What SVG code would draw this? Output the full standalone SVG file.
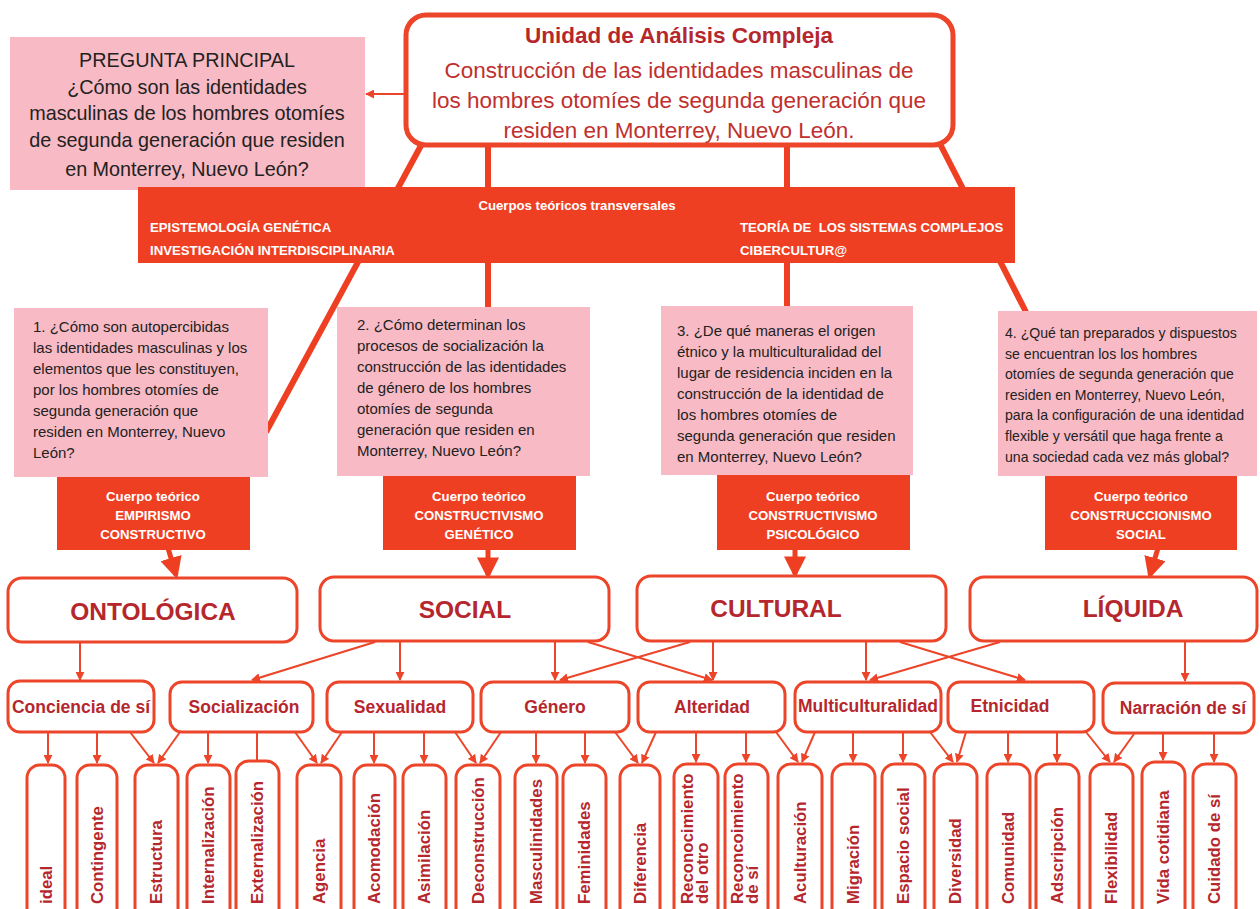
<svg xmlns="http://www.w3.org/2000/svg" width="1260" height="909" viewBox="0 0 1260 909">
<defs>
<style>
.bg{fill:#ffffff}
.rbox{fill:#ffffff;stroke:#ec4529;stroke-width:3}
.tbox{fill:#ffffff;stroke:#ec4529;stroke-width:5}
.pink{fill:#f8bac4}
.band{fill:#ef3f23}
.thick{stroke:#ef3f23;stroke-width:6;fill:none}
.big{stroke:#ef3f23;stroke-width:5;fill:none}
.thin{stroke:#ec4529;stroke-width:2;fill:none}
.t-title{font-family:"Liberation Sans",Arial,sans-serif;font-weight:bold;font-size:22.5px;fill:#b5272d;text-anchor:middle}
.t-main{font-family:"Liberation Sans",Arial,sans-serif;font-size:22.5px;fill:#c0302e;text-anchor:middle}
.t-pq{font-family:"Liberation Sans",Arial,sans-serif;font-size:19.8px;fill:#222;text-anchor:middle}
.t-band{font-family:"Liberation Sans",Arial,sans-serif;font-weight:bold;font-size:13.2px;fill:#ffffff}
.t-q{font-family:"Liberation Sans",Arial,sans-serif;font-size:15px;fill:#222}
.t-q4{font-family:"Liberation Sans",Arial,sans-serif;font-size:14.1px;fill:#222}
.t-ct{font-family:"Liberation Sans",Arial,sans-serif;font-weight:bold;font-size:13.2px;fill:#ffffff;text-anchor:middle}
.t-l1{font-family:"Liberation Sans",Arial,sans-serif;font-weight:bold;font-size:24.5px;fill:#b5272d;text-anchor:middle}
.t-l2{font-family:"Liberation Sans",Arial,sans-serif;font-weight:bold;font-size:17.5px;fill:#b5272d;text-anchor:middle}
.t-leaf{font-family:"Liberation Sans",Arial,sans-serif;font-weight:bold;font-size:16.8px;fill:#b5272d}
</style>
<marker id="ah" viewBox="0 0 10 10" refX="9" refY="5" markerWidth="4.5" markerHeight="4.5" orient="auto" markerUnits="strokeWidth">
<path d="M0,0 L10,5 L0,10 Z" fill="#ec4529"/>
</marker>
<marker id="ahb" viewBox="0 0 10 10" refX="8" refY="5" markerWidth="22" markerHeight="22" orient="auto" markerUnits="userSpaceOnUse">
<path d="M0,0 L10,5 L0,10 Z" fill="#ef3f23"/>
</marker>
</defs>
<rect class="bg" x="0" y="0" width="1260" height="909"/>

<g id="connectors">
<line class="thick" x1="424" y1="140" x2="266" y2="432"/>
<line class="thick" x1="488" y1="140" x2="488" y2="310"/>
<line class="thick" x1="787" y1="140" x2="787" y2="310"/>
<line class="thick" x1="938" y1="140" x2="1026" y2="312"/>
<line class="thin" x1="405" y1="94" x2="366" y2="94" stroke-width="2.5" marker-end="url(#ah)"/>
<line class="big" x1="168" y1="548" x2="176" y2="575" marker-end="url(#ahb)"/>
<line class="big" x1="488" y1="548" x2="488" y2="575" marker-end="url(#ahb)"/>
<line class="big" x1="795" y1="548" x2="795" y2="574" marker-end="url(#ahb)"/>
<line class="big" x1="1158" y1="548" x2="1150" y2="575" marker-end="url(#ahb)"/>
<line class="thin" x1="80" y1="643" x2="80" y2="680" marker-end="url(#ah)"/>
<line class="thin" x1="375" y1="642" x2="252" y2="680" marker-end="url(#ah)"/>
<line class="thin" x1="400" y1="642" x2="400" y2="680" marker-end="url(#ah)"/>
<line class="thin" x1="555" y1="642" x2="555" y2="680" marker-end="url(#ah)"/>
<line class="thin" x1="588" y1="642" x2="712" y2="680" marker-end="url(#ah)"/>
<line class="thin" x1="690" y1="642" x2="560" y2="680" marker-end="url(#ah)"/>
<line class="thin" x1="713" y1="642" x2="713" y2="680" marker-end="url(#ah)"/>
<line class="thin" x1="866" y1="642" x2="866" y2="680" marker-end="url(#ah)"/>
<line class="thin" x1="900" y1="642" x2="1025" y2="680" marker-end="url(#ah)"/>
<line class="thin" x1="1000" y1="642" x2="870" y2="680" marker-end="url(#ah)"/>
<line class="thin" x1="1185" y1="642" x2="1185" y2="681" marker-end="url(#ah)"/>
<line class="thin" x1="48" y1="732" x2="48" y2="763" marker-end="url(#ah)"/>
<line class="thin" x1="97" y1="732" x2="97" y2="763" marker-end="url(#ah)"/>
<line class="thin" x1="130" y1="732" x2="154" y2="763" marker-end="url(#ah)"/>
<line class="thin" x1="180" y1="732" x2="158" y2="763" marker-end="url(#ah)"/>
<line class="thin" x1="208" y1="732" x2="208" y2="763" marker-end="url(#ah)"/>
<line class="thin" x1="257" y1="732" x2="257" y2="760"/>
<line class="thin" x1="295" y1="732" x2="317" y2="763" marker-end="url(#ah)"/>
<line class="thin" x1="342" y1="732" x2="321" y2="763" marker-end="url(#ah)"/>
<line class="thin" x1="374" y1="732" x2="374" y2="763" marker-end="url(#ah)"/>
<line class="thin" x1="424" y1="732" x2="424" y2="763" marker-end="url(#ah)"/>
<line class="thin" x1="455" y1="732" x2="476" y2="763" marker-end="url(#ah)"/>
<line class="thin" x1="501" y1="732" x2="480" y2="763" marker-end="url(#ah)"/>
<line class="thin" x1="536" y1="732" x2="536" y2="763" marker-end="url(#ah)"/>
<line class="thin" x1="585" y1="732" x2="585" y2="763" marker-end="url(#ah)"/>
<line class="thin" x1="615" y1="732" x2="638" y2="763" marker-end="url(#ah)"/>
<line class="thin" x1="656" y1="732" x2="642" y2="763" marker-end="url(#ah)"/>
<line class="thin" x1="696" y1="732" x2="696" y2="762" marker-end="url(#ah)"/>
<line class="thin" x1="746" y1="732" x2="746" y2="762" marker-end="url(#ah)"/>
<line class="thin" x1="776" y1="732" x2="798" y2="762" marker-end="url(#ah)"/>
<line class="thin" x1="815" y1="732" x2="802" y2="762" marker-end="url(#ah)"/>
<line class="thin" x1="853" y1="732" x2="853" y2="762" marker-end="url(#ah)"/>
<line class="thin" x1="903" y1="732" x2="903" y2="762" marker-end="url(#ah)"/>
<line class="thin" x1="930" y1="732" x2="953" y2="762" marker-end="url(#ah)"/>
<line class="thin" x1="966" y1="732" x2="957" y2="762" marker-end="url(#ah)"/>
<line class="thin" x1="1008" y1="732" x2="1008" y2="762" marker-end="url(#ah)"/>
<line class="thin" x1="1057" y1="732" x2="1057" y2="762" marker-end="url(#ah)"/>
<line class="thin" x1="1086" y1="732" x2="1110" y2="762" marker-end="url(#ah)"/>
<line class="thin" x1="1134" y1="734" x2="1114" y2="762" marker-end="url(#ah)"/>
<line class="thin" x1="1163" y1="734" x2="1163" y2="760" marker-end="url(#ah)"/>
<line class="thin" x1="1214" y1="734" x2="1214" y2="762" marker-end="url(#ah)"/>
</g>

<g id="main-question">
<rect class="pink" x="10" y="37" width="355" height="153"/>
<text class="t-pq" x="187" y="67">PREGUNTA PRINCIPAL</text>
<text class="t-pq" x="187" y="94">¿Cómo son las identidades</text>
<text class="t-pq" x="187" y="120">masculinas de los hombres otomíes</text>
<text class="t-pq" x="187" y="147">de segunda generación que residen</text>
<text class="t-pq" x="187" y="176">en Monterrey, Nuevo León?</text>
</g>

<g id="unit">
<rect class="tbox" x="406" y="15" width="547" height="130" rx="20"/>
<text class="t-title" x="679" y="43">Unidad de Análisis Compleja</text>
<text class="t-main" x="679" y="78">Construcción de las identidades masculinas de</text>
<text class="t-main" x="679" y="108">los hombres otomíes de segunda generación que</text>
<text class="t-main" x="679" y="138">residen en Monterrey, Nuevo León.</text>
</g>

<g id="band">
<rect class="band" x="138" y="187" width="877" height="76"/>
<text class="t-band" x="577" y="210" text-anchor="middle">Cuerpos teóricos transversales</text>
<text class="t-band" x="150" y="232">EPISTEMOLOGÍA GENÉTICA</text>
<text class="t-band" x="150" y="255">INVESTIGACIÓN INTERDISCIPLINARIA</text>
<text class="t-band" x="740" y="232" xml:space="preserve">TEORÍA DE  LOS SISTEMAS COMPLEJOS</text>
<text class="t-band" x="740" y="255">CIBERCULTUR@</text>
</g>

<g id="q1">
<rect class="pink" x="14" y="308" width="254" height="169"/>
<text class="t-q" x="33" y="332">1.  ¿Cómo son autopercibidas</text>
<text class="t-q" x="33" y="353">las identidades masculinas y los</text>
<text class="t-q" x="33" y="374">elementos que les constituyen,</text>
<text class="t-q" x="33" y="395">por los hombres otomíes de</text>
<text class="t-q" x="33" y="416">segunda generación que</text>
<text class="t-q" x="33" y="437">residen en Monterrey, Nuevo</text>
<text class="t-q" x="33" y="458">León?</text>
</g>
<g id="c1">
<rect class="band" x="57" y="477" width="193" height="73"/>
<text class="t-ct" x="153" y="501">Cuerpo teórico</text>
<text class="t-ct" x="153" y="520">EMPIRISMO</text>
<text class="t-ct" x="153" y="539">CONSTRUCTIVO</text>
</g>

<g id="q2">
<rect class="pink" x="337" y="307" width="253" height="169"/>
<text class="t-q" x="357" y="330">2. ¿Cómo determinan los</text>
<text class="t-q" x="357" y="351">procesos de socialización la</text>
<text class="t-q" x="357" y="372">construcción de las identidades</text>
<text class="t-q" x="357" y="393">de género de los hombres</text>
<text class="t-q" x="357" y="414">otomíes de segunda</text>
<text class="t-q" x="357" y="435">generación que residen en</text>
<text class="t-q" x="357" y="456">Monterrey, Nuevo León?</text>
</g>
<g id="c2">
<rect class="band" x="383" y="476" width="193" height="74"/>
<text class="t-ct" x="479" y="501">Cuerpo teórico</text>
<text class="t-ct" x="479" y="520">CONSTRUCTIVISMO</text>
<text class="t-ct" x="479" y="539">GENÉTICO</text>
</g>

<g id="q3">
<rect class="pink" x="661" y="306" width="252" height="169"/>
<text class="t-q" x="677" y="336">3. ¿De qué maneras el origen</text>
<text class="t-q" x="677" y="357">étnico y la multiculturalidad del</text>
<text class="t-q" x="677" y="378">lugar de residencia inciden en la</text>
<text class="t-q" x="677" y="399">construcción de la identidad de</text>
<text class="t-q" x="677" y="420">los hombres otomíes de</text>
<text class="t-q" x="677" y="441">segunda generación que residen</text>
<text class="t-q" x="677" y="462">en Monterrey, Nuevo León?</text>
</g>
<g id="c3">
<rect class="band" x="717" y="475" width="193" height="75"/>
<text class="t-ct" x="813" y="501">Cuerpo teórico</text>
<text class="t-ct" x="813" y="520">CONSTRUCTIVISMO</text>
<text class="t-ct" x="813" y="539">PSICOLÓGICO</text>
</g>

<g id="q4">
<rect class="pink" x="998" y="311" width="259" height="165"/>
<text class="t-q4" x="1005" y="338">4. ¿Qué tan preparados y dispuestos</text>
<text class="t-q4" x="1005" y="359">se encuentran los los hombres</text>
<text class="t-q4" x="1005" y="379">otomíes de segunda generación que</text>
<text class="t-q4" x="1005" y="400">residen en Monterrey, Nuevo León,</text>
<text class="t-q4" x="1005" y="420">para la configuración de una identidad</text>
<text class="t-q4" x="1005" y="441">flexible y versátil que haga frente a</text>
<text class="t-q4" x="1005" y="462">una sociedad cada vez más global?</text>
</g>
<g id="c4">
<rect class="band" x="1045" y="476" width="192" height="74"/>
<text class="t-ct" x="1141" y="501">Cuerpo teórico</text>
<text class="t-ct" x="1141" y="520">CONSTRUCCIONISMO</text>
<text class="t-ct" x="1141" y="539">SOCIAL</text>
</g>

<g id="ontologica"><rect class="rbox" x="8" y="578" width="289" height="64" rx="14"/><text class="t-l1" x="153" y="620">ONTOLÓGICA</text></g>
<g id="social"><rect class="rbox" x="320" y="577" width="289" height="64" rx="14"/><text class="t-l1" x="465" y="618">SOCIAL</text></g>
<g id="cultural"><rect class="rbox" x="637" y="576" width="309" height="65" rx="14"/><text class="t-l1" x="776" y="617">CULTURAL</text></g>
<g id="liquida"><rect class="rbox" x="970" y="577" width="287" height="64" rx="14"/><text class="t-l1" x="1133" y="617">LÍQUIDA</text></g>

<g id="conciencia"><rect class="rbox" x="8" y="681" width="146" height="51" rx="12"/><text class="t-l2" x="81" y="713">Conciencia de sí</text></g>
<g id="socializacion"><rect class="rbox" x="170" y="682" width="143" height="50" rx="12"/><text class="t-l2" x="244" y="713">Socialización</text></g>
<g id="sexualidad"><rect class="rbox" x="327" y="682" width="146" height="50" rx="12"/><text class="t-l2" x="400" y="713">Sexualidad</text></g>
<g id="genero"><rect class="rbox" x="481" y="682" width="148" height="50" rx="12"/><text class="t-l2" x="555" y="713">Género</text></g>
<g id="alteridad"><rect class="rbox" x="638" y="682" width="147" height="50" rx="12"/><text class="t-l2" x="712" y="713">Alteridad</text></g>
<g id="multiculturalidad"><rect class="rbox" x="795" y="682" width="146" height="50" rx="12"/><text class="t-l2" x="868" y="712">Multiculturalidad</text></g>
<g id="etnicidad"><rect class="rbox" x="948" y="682" width="146" height="50" rx="12"/><text class="t-l2" x="1010" y="712">Etnicidad</text></g>
<g id="narracion"><rect class="rbox" x="1103" y="683" width="151" height="50" rx="12"/><text class="t-l2" x="1183" y="714">Narración de sí</text></g>

<g id="leaf-ideal"><rect class="rbox" x="27" y="765" width="38" height="160" rx="13"/><text class="t-leaf" transform="translate(52,904) rotate(-90)">ideal</text></g>
<g id="leaf-contingente"><rect class="rbox" x="77" y="765" width="40" height="160" rx="13"/><text class="t-leaf" transform="translate(103,904) rotate(-90)">Contingente</text></g>
<g id="leaf-estructura"><rect class="rbox" x="135" y="765" width="43" height="160" rx="13"/><text class="t-leaf" transform="translate(162,904) rotate(-90)">Estructura</text></g>
<g id="leaf-internalizacion"><rect class="rbox" x="187" y="765" width="43" height="160" rx="13"/><text class="t-leaf" transform="translate(214,904) rotate(-90)">Internalización</text></g>
<g id="leaf-externalizacion"><rect class="rbox" x="236" y="761" width="43" height="164" rx="13"/><text class="t-leaf" transform="translate(263,904) rotate(-90)">Externalización</text></g>
<g id="leaf-agencia"><rect class="rbox" x="297" y="765" width="44" height="160" rx="13"/><text class="t-leaf" transform="translate(325,904) rotate(-90)">Agencia</text></g>
<g id="leaf-acomodacion"><rect class="rbox" x="354" y="765" width="41" height="160" rx="13"/><text class="t-leaf" transform="translate(380,904) rotate(-90)">Acomodación</text></g>
<g id="leaf-asimilacion"><rect class="rbox" x="403" y="765" width="43" height="160" rx="13"/><text class="t-leaf" transform="translate(430,904) rotate(-90)">Asimilación</text></g>
<g id="leaf-deconstruccion"><rect class="rbox" x="456" y="765" width="44" height="160" rx="13"/><text class="t-leaf" transform="translate(484,904) rotate(-90)">Deconstrucción</text></g>
<g id="leaf-masculinidades"><rect class="rbox" x="515" y="765" width="42" height="160" rx="13"/><text class="t-leaf" transform="translate(542,904) rotate(-90)">Masculinidades</text></g>
<g id="leaf-feminidades"><rect class="rbox" x="563" y="765" width="43" height="160" rx="13"/><text class="t-leaf" transform="translate(590,904) rotate(-90)">Feminidades</text></g>
<g id="leaf-diferencia"><rect class="rbox" x="620" y="765" width="40" height="160" rx="13"/><text class="t-leaf" transform="translate(646,904) rotate(-90)">Diferencia</text></g>
<g id="leaf-reconocimiento-otro"><rect class="rbox" x="674" y="764" width="44" height="161" rx="13"/><text class="t-leaf" transform="translate(693,904) rotate(-90)"><tspan x="0" y="0">Reconocimiento</tspan><tspan x="0" y="15">del otro</tspan></text></g>
<g id="leaf-reconocimiento-si"><rect class="rbox" x="725" y="764" width="43" height="161" rx="13"/><text class="t-leaf" transform="translate(743,904) rotate(-90)"><tspan x="0" y="0">Reconcoimiento</tspan><tspan x="0" y="15">de sí</tspan></text></g>
<g id="leaf-aculturacion"><rect class="rbox" x="778" y="764" width="44" height="161" rx="13"/><text class="t-leaf" transform="translate(806,904) rotate(-90)">Aculturación</text></g>
<g id="leaf-migracion"><rect class="rbox" x="832" y="764" width="43" height="161" rx="13"/><text class="t-leaf" transform="translate(859,904) rotate(-90)">Migración</text></g>
<g id="leaf-espacio"><rect class="rbox" x="882" y="764" width="43" height="161" rx="13"/><text class="t-leaf" transform="translate(909,904) rotate(-90)">Espacio social</text></g>
<g id="leaf-diversidad"><rect class="rbox" x="934" y="764" width="43" height="161" rx="13"/><text class="t-leaf" transform="translate(961,904) rotate(-90)">Diversidad</text></g>
<g id="leaf-comunidad"><rect class="rbox" x="987" y="764" width="43" height="161" rx="13"/><text class="t-leaf" transform="translate(1014,904) rotate(-90)">Comunidad</text></g>
<g id="leaf-adscripcion"><rect class="rbox" x="1036" y="764" width="43" height="161" rx="13"/><text class="t-leaf" transform="translate(1063,904) rotate(-90)">Adscripción</text></g>
<g id="leaf-flexibilidad"><rect class="rbox" x="1090" y="764" width="43" height="161" rx="13"/><text class="t-leaf" transform="translate(1117,904) rotate(-90)">Flexibilidad</text></g>
<g id="leaf-vida"><rect class="rbox" x="1142" y="762" width="43" height="163" rx="13"/><text class="t-leaf" transform="translate(1169,904) rotate(-90)">Vida cotidiana</text></g>
<g id="leaf-cuidado"><rect class="rbox" x="1193" y="764" width="43" height="161" rx="13"/><text class="t-leaf" transform="translate(1220,904) rotate(-90)">Cuidado de sí</text></g>
</svg>
